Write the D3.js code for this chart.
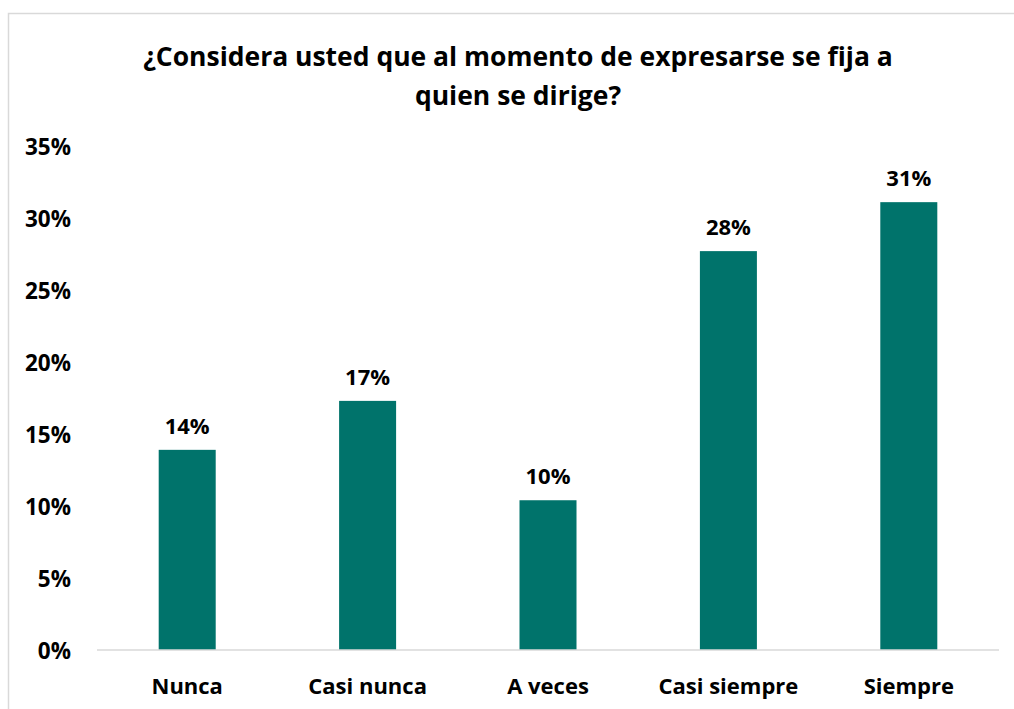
<!DOCTYPE html>
<html><head><meta charset="utf-8">
<script src="https://cdn.jsdelivr.net/npm/d3@7"></script>
<style>body{margin:0;background:#fff}svg{display:block}text{font-family:"Open Sans",sans-serif;font-weight:700;fill:#000}</style>
</head><body><svg id="c" width="1014" height="709"></svg>
<script>
const categories = ["Nunca","Casi nunca","A veces","Casi siempre","Siempre"];
const values = [13.9, 17.3, 10.4, 27.7, 31.1];
const labels = ["14%","17%","10%","28%","31%"];
const yTicks = [0,5,10,15,20,25,30,35];
const titleLines = ["¿Considera usted que al momento de expresarse se fija a","quien se dirige?"];

const svg = d3.select("#c");
svg.append("rect").attr("x",8.5).attr("y",13.5).attr("width",1020).attr("height",720)
  .attr("fill","#fff").attr("stroke","#d9d9d9").attr("stroke-width",1.5);

const x = d3.scaleBand().domain(categories).range([97,999]).paddingInner(0.684).paddingOuter(0.342);
const y = d3.scaleLinear().domain([0,35]).range([650,146]);

const tl = svg.append("g").selectAll("text").data(titleLines).join("text")
  .attr("x",518).attr("y",(d,i)=>66+i*39).attr("text-anchor","middle")
  .style("font-size","24px").text(d=>d);
const w0 = tl.nodes()[0].getComputedTextLength();
tl.style("font-size",(24*750/w0)+"px");

const ya = svg.append("g").attr("transform","translate(71,0)")
  .call(d3.axisLeft(y).tickValues(yTicks).tickFormat(d=>d+"%").tickSize(0).tickPadding(0));
ya.select(".domain").remove();
ya.selectAll("text").style("font-size","22.5px").style("font-family","'Open Sans', sans-serif").attr("fill","#000").attr("dy","0.36em");

svg.append("g").selectAll("rect").data(values).join("rect")
  .attr("x",(d,i)=>x(categories[i])).attr("width",x.bandwidth())
  .attr("y",d=>y(d)).attr("height",d=>y(0)-y(d)).attr("fill","#00736b");

svg.append("line").attr("x1",97).attr("x2",999).attr("y1",650).attr("y2",650)
  .attr("stroke","#d9d9d9").attr("stroke-width",1.5);

svg.append("g").selectAll("text").data(values).join("text")
  .attr("x",(d,i)=>x(categories[i])+x.bandwidth()/2).attr("y",d=>y(d)-16)
  .attr("text-anchor","middle").style("font-size","22px").text((d,i)=>labels[i]);

const xa = svg.append("g").attr("transform","translate(0,650)")
  .call(d3.axisBottom(x).tickSize(0).tickPadding(0));
xa.select(".domain").remove();
xa.selectAll("text").style("font-size","22px").style("font-family","'Open Sans', sans-serif").attr("fill","#000").attr("dy",null).attr("y",44);
</script></body></html>
